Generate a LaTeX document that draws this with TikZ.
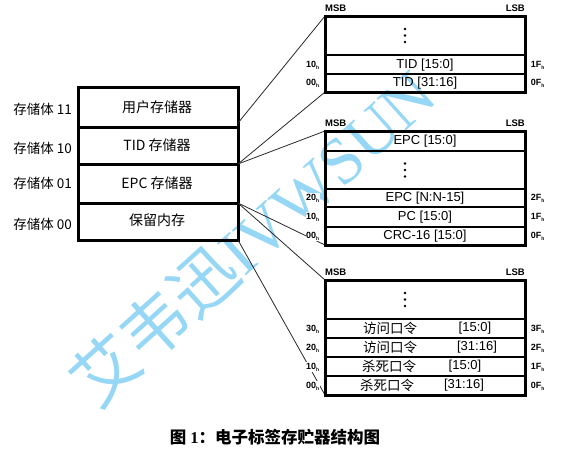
\documentclass[tikz,border=0pt]{standalone}
\usepackage{fontspec}
\setmainfont{Liberation Sans}
\newfontfamily\cjk{Noto Sans CJK SC}
\newfontfamily\wmserif{Liberation Serif}
\definecolor{wmblue}{RGB}{150,215,245}
\definecolor{linegray}{RGB}{40,40,40}
\newcommand{\hexlab}[1]{{\bfseries #1}\raisebox{-1.8pt}{\fontsize{5}{5}\selectfont\bfseries h}}
\begin{document}
\begin{tikzpicture}[x=1pt,y=-1pt,
  outerbox/.style={line width=3pt,line join=miter},
  rowsep/.style={line width=2pt},
  conn/.style={line width=0.8pt,draw=linegray},
  banklbl/.style={font=\cjk\fontsize{13.5}{14}\selectfont,anchor=east,inner sep=0pt},
  celltxt/.style={font=\cjk\fontsize{14}{15}\selectfont,inner sep=0pt},
  rowtxt/.style={font=\fontsize{13}{14}\selectfont,inner sep=0pt},
  cjkrow/.style={font=\cjk\fontsize{13.5}{14}\selectfont,inner sep=0pt},
  msb/.style={font=\bfseries\fontsize{9.5}{10}\selectfont,inner sep=0pt},
  addrl/.style={font=\fontsize{9}{10}\selectfont,anchor=east,inner sep=0.6pt,fill=white},
  addrr/.style={font=\fontsize{9}{10}\selectfont,anchor=west,inner sep=0.6pt},
  dotc/.style={fill=black,draw=none}
]
\useasboundingbox (0,0) rectangle (562,451);

% watermark
\node[text=wmblue,rotate=42,inner sep=0pt] (wm) at (252,237)
  {\fontsize{66}{66}\selectfont{\cjk 艾韦迅}{\wmserif IVWSUN}};

% left block
\draw[outerbox] (78,87) rectangle (238,240);
\draw[line width=3pt] (78,127) -- (238,127);
\draw[line width=3pt] (78,164) -- (238,164);
\draw[line width=3pt] (78,203) -- (238,203);
\node[celltxt] (r11) at (157,107) {用户存储器};
\node[celltxt] (r10) at (157,145) {TID 存储器};
\node[celltxt] (r01) at (157,183) {EPC 存储器};
\node[celltxt] (r00) at (157,220) {保留内存};
\node[banklbl] (b11) at (72,109) {存储体 11};
\node[banklbl] (b10) at (72,148) {存储体 10};
\node[banklbl] (b01) at (72,183) {存储体 01};
\node[banklbl] (b00) at (72,224) {存储体 00};

% connector anchors on left block
\coordinate (lA) at (238,123);
\coordinate (lB) at (238,164);
\coordinate (lC) at (238,203);
\coordinate (lD) at (238,240);

% block corners
\coordinate (t1) at (325,16);
\coordinate (b1) at (325,92);
\coordinate (t2) at (325,131);
\coordinate (b2) at (325,245);
\coordinate (t3) at (325,280);
\coordinate (b3) at (325,395);

% connectors
\draw[conn] (lA) -- (t1);
\draw[conn] (lB) -- (b1);
\draw[conn] (lB) -- (t2);
\draw[conn] (lC) -- (b2);
\draw[conn] (lC) -- (t3);
\draw[conn] (lD) -- (b3);

% ---------- block 1 (TID)
\draw[outerbox] (t1) rectangle (525,92);
\draw[rowsep] (325,55) -- (525,55);
\draw[rowsep] (325,74) -- (525,74);
\fill[dotc] (405,29) circle (1.4) (405,35.5) circle (1.4) (405,42) circle (1.4);
\node[rowtxt] (tid1) at (425,65) {TID [15:0]};
\node[rowtxt] (tid2) at (425,83) {TID [31:16]};
\node[msb,anchor=south west] (msb1) at (325,12) {MSB};
\node[msb,anchor=south east] (lsb1) at (525,12) {LSB};
\node[addrl] (a1a) at (320,65) {\hexlab{10}};
\node[addrl] (a1b) at (320,83) {\hexlab{00}};
\node[addrr] (a1c) at (530,65) {\hexlab{1F}};
\node[addrr] (a1d) at (530,83) {\hexlab{0F}};

% ---------- block 2 (EPC)
\draw[outerbox] (t2) rectangle (525,245);
\draw[rowsep] (325,151) -- (525,151);
\draw[rowsep] (325,189) -- (525,189);
\draw[rowsep] (325,207) -- (525,207);
\draw[rowsep] (325,227) -- (525,227);
\fill[dotc] (405,163.5) circle (1.4) (405,170) circle (1.4) (405,176.5) circle (1.4);
\node[rowtxt] (epc1) at (425,141) {EPC [15:0]};
\node[rowtxt] (epc2) at (425,198) {EPC [N:N-15]};
\node[rowtxt] (pc) at (425,217) {PC [15:0]};
\node[rowtxt] (crc) at (425,236) {CRC-16 [15:0]};
\node[msb,anchor=south west] (msb2) at (325,127) {MSB};
\node[msb,anchor=south east] (lsb2) at (525,127) {LSB};
\node[addrl] (a2a) at (320,198) {\hexlab{20}};
\node[addrl] (a2b) at (320,217) {\hexlab{10}};
\node[addrl] (a2c) at (320,236) {\hexlab{00}};
\node[addrr] (a2d) at (530,198) {\hexlab{2F}};
\node[addrr] (a2e) at (530,217) {\hexlab{1F}};
\node[addrr] (a2f) at (530,236) {\hexlab{0F}};

% ---------- block 3 (reserved)
\draw[outerbox] (t3) rectangle (525,395);
\draw[rowsep] (325,319) -- (525,319);
\draw[rowsep] (325,338) -- (525,338);
\draw[rowsep] (325,357) -- (525,357);
\draw[rowsep] (325,376) -- (525,376);
\fill[dotc] (405,293) circle (1.4) (405,299.5) circle (1.4) (405,306) circle (1.4);
\node[cjkrow] (k1a) at (390,328.5) {访问口令};
\node[rowtxt] (k1b) at (475,328.5) {[15:0]};
\node[cjkrow] (k2a) at (390,347.5) {访问口令};
\node[rowtxt] (k2b) at (477,347.5) {[31:16]};
\node[cjkrow] (k3a) at (389,366.5) {杀死口令};
\node[rowtxt] (k3b) at (465,366.5) {[15:0]};
\node[cjkrow] (k4a) at (387,385.5) {杀死口令};
\node[rowtxt] (k4b) at (464,385.5) {[31:16]};
\node[msb,anchor=south west] (msb3) at (325,276) {MSB};
\node[msb,anchor=south east] (lsb3) at (525,276) {LSB};
\node[addrl] (a3a) at (320,329) {\hexlab{30}};
\node[addrl] (a3b) at (320,348) {\hexlab{20}};
\node[addrl] (a3c) at (320,367) {\hexlab{10}};
\node[addrl] (a3d) at (320,386) {\hexlab{00}};
\node[addrr] (a3e) at (530,329) {\hexlab{3F}};
\node[addrr] (a3f) at (530,348) {\hexlab{2F}};
\node[addrr] (a3g) at (530,367) {\hexlab{1F}};
\node[addrr] (a3h) at (530,386) {\hexlab{0F}};

% caption
\node[inner sep=0pt,font=\cjk\bfseries\fontsize{16.5}{17}\selectfont] (cap) at (275,437)
  {图 {\wmserif\bfseries 1}：电子标签存贮器结构图};
\end{tikzpicture}
\end{document}
